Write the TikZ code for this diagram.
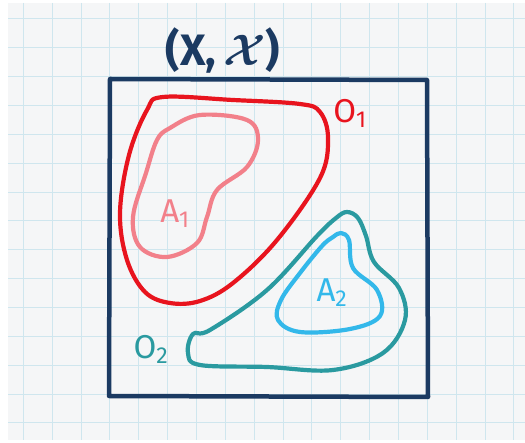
\RequirePackage{fix-cm}
\documentclass[tikz,border=0pt]{standalone}
\usepackage{fontspec}
\setsansfont{Fira Sans}
\usepackage{xcolor}
\usepackage{tikz}
\usepackage{amsmath,amssymb}

\definecolor{navy}{HTML}{1B3A62}
\definecolor{redline}{HTML}{E8141E}
\definecolor{pinkline}{HTML}{F2808A}
\definecolor{tealline}{HTML}{2A9AA0}
\definecolor{skyline}{HTML}{33B8EA}
\definecolor{gridline}{HTML}{CFE6EE}
\definecolor{paper}{HTML}{F5F6F7}

\begin{document}
\begin{tikzpicture}[x=1pt, y=-1pt,
		blob/.style={line width=4.2pt, line join=round, line cap=round},
		lbl/.style={font=\sffamily\fontsize{33}{33}\selectfont, inner sep=0pt}]
		\useasboundingbox (0,0) rectangle (525,443);
		\fill[white] (0,0) rectangle (525,443);
		\fill[paper] (8,3) rectangle (525,440);

		% grid paper
		\foreach \gx in {0,...,17}
			\draw[gridline, line width=1pt] ({23.4+28.85*\gx}, 3) -- ({23.4+28.85*\gx}, 440);
		\foreach \gy in {0,...,14}
			\draw[gridline, line width=1pt] (8, {19+28.85*\gy}) -- (525, {19+28.85*\gy});

		% the space
		\draw[navy, line width=4.5pt, line join=round] (110,79) -- (427,80) -- (428,397) -- (109,396) -- cycle;
		\node[navy, font=\sffamily\bfseries\fontsize{44}{44}\selectfont, inner sep=0pt] (space) at (223,51)
			{(X,\,{\boldmath$\mathcal{X}$})};

		% open sets
		\draw[blob, redline] plot[smooth cycle, tension=0.6] coordinates {
			(147,110) (163,97) (233,100) (300,104) (320,112) (328,138) (320,178)
			(277,240) (233,283) (200,301) (170,303) (145,292) (127,260) (120,213) (129,155)};
		\draw[blob, tealline] plot[smooth cycle, tension=0.6] coordinates {
			(336,218) (347,212) (358,218) (366,236) (374,262) (399,288) (405,320) (383,353) (333,370)
			(267,367) (200,365) (188,353) (193,334) (210,330) (267,290) (317,236)};

		% subsets
		\draw[blob, pinkline] plot[smooth cycle, tension=0.6] coordinates {
			(170,128) (200,115) (247,120) (258,140) (247,167) (217,190) (207,217)
			(197,243) (167,257) (140,247) (133,217) (146,173) (157,140)};
		\draw[blob, skyline] plot[smooth cycle, tension=0.6] coordinates {
			(333,237) (341,233) (349,240) (353,268) (377,290) (380,316) (350,329) (300,332)
			(278,320) (281,300) (300,273) (322,246)};

		% labels
		\node[lbl, redline] (o1) at (350,113) {O\textsubscript{1}};
		\node[lbl, tealline] (o2) at (151,349) {O\textsubscript{2}};
		\node[lbl, pinkline] (a1) at (175,214) {A\textsubscript{1}};
		\node[lbl, skyline] (a2) at (332,293) {A\textsubscript{2}};
	\end{tikzpicture}
\end{document}
